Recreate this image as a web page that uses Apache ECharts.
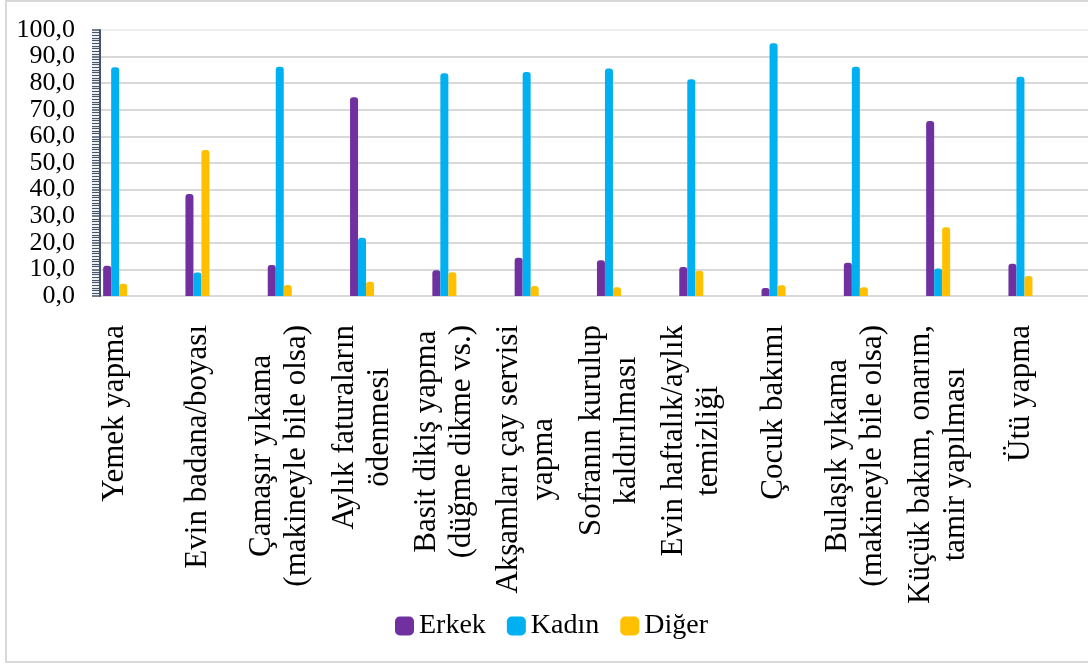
<!DOCTYPE html>
<html>
<head>
<meta charset="utf-8">
<script src="https://cdn.jsdelivr.net/npm/echarts@6/dist/echarts.min.js"></script>
<style>
  html, body { margin: 0; padding: 0; background: #ffffff; }
  #chart { width: 1088px; height: 666px; }
</style>
</head>
<body>
<div id="chart"></div>
<script>
// Household tasks and who does them (%)
const categories = [
  'Yemek yapma',
  'Evin badana/boyası',
  'Çamaşır yıkama\n(makineyle bile olsa)',
  'Aylık faturaların\nödenmesi',
  'Basit dikiş yapma\n(düğme dikme vs.)',
  'Akşamları çay servisi\nyapma',
  'Sofranın kurulup\nkaldırılması',
  'Evin haftalık/aylık\ntemizliği',
  'Çocuk bakımı',
  'Bulaşık yıkama\n(makineyle bile olsa)',
  'Küçük bakım, onarım,\ntamir yapılması',
  'Ütü yapma'
];
const seriesNames = ['Erkek', 'Kadın', 'Diğer'];
const erkek = [11.4, 38.3, 11.7, 74.7, 9.7, 14.4, 13.4, 10.9, 3.0, 12.5, 65.8, 12.1];
const kadin = [86.0, 8.8, 86.2, 21.9, 83.7, 84.2, 85.5, 81.5, 95.0, 86.2, 10.3, 82.4];
const diger = [4.6, 54.9, 4.1, 5.4, 8.9, 3.8, 3.3, 9.5, 4.0, 3.3, 25.8, 7.5];
const yTicks = [0, 10, 20, 30, 40, 50, 60, 70, 80, 90, 100];
const yMin = yTicks[0], yMax = yTicks[yTicks.length - 1], yStep = 10;

const colors = ['#7030A0', '#00B0F0', '#FFC000'];
const serif = 'Liberation Serif, Times New Roman, DejaVu Serif, serif';

const chart = echarts.init(document.getElementById('chart'), null, { renderer: 'canvas' });

// split lines: the top one is drawn fainter
const splitColors = yTicks.map(v => (v === yMax ? '#eeeeee' : '#d9d9d9'));

const barSeries = [erkek, kadin, diger].map((vals, i) => ({
  name: seriesNames[i],
  type: 'bar',
  xAxisIndex: 1,
  yAxisIndex: 1,
  data: vals,
  barWidth: 8,
  barGap: '0%',
  itemStyle: { color: colors[i], borderRadius: [3, 3, 0, 0] }
}));

chart.setOption({
  animation: false,
  backgroundColor: '#ffffff',
  color: colors,
  graphic: [{
    type: 'rect',
    shape: { x: 6, y: 1, width: 1200, height: 661 },
    style: { fill: 'none', stroke: '#d9d9d9', lineWidth: 2 },
    silent: true,
    z: -10
  }],
  legend: {
    data: seriesNames,
    left: 390,
    top: 607,
    itemWidth: 19,
    itemHeight: 19,
    itemGap: 21,
    icon: 'roundRect',
    textStyle: { fontFamily: serif, fontSize: 28, color: '#000000' }
  },
  grid: [
    { left: 100, right: 0, top: 30, bottom: 370 },
    { left: 74, right: 26.4, top: 30, bottom: 370 }
  ],
  xAxis: [
    { type: 'category', gridIndex: 0, data: categories, show: false },
    {
      type: 'category',
      gridIndex: 1,
      data: categories,
      axisLine: { show: false },
      axisTick: { show: false },
      axisLabel: {
        interval: 0,
        rotate: 90,
        margin: 29,
        hideOverlap: false,
        fontFamily: serif,
        fontSize: 31,
        formatter: function (v) {
          return v.split('\n').map(function (s) { return '{c|' + s + '}'; }).join('\n');
        },
        rich: {
          c: { align: 'center', fontFamily: serif, fontSize: 31, lineHeight: 35, color: '#000000' }
        }
      }
    }
  ],
  yAxis: [
    {
      type: 'value',
      gridIndex: 0,
      min: yMin,
      max: yMax,
      interval: yStep,
      axisLine: { show: true, lineStyle: { color: '#44546A', width: 2 } },
      axisTick: { show: true, length: 8, lineStyle: { color: '#44546A', width: 1.5 } },
      minorTick: { show: true, splitNumber: 10, length: 8, lineStyle: { color: '#44546A', width: 1.2 } },
      splitLine: { show: true, lineStyle: { color: splitColors, width: 2 } },
      axisLabel: {
        margin: 25,
        showMinLabel: true,
        showMaxLabel: true,
        hideOverlap: false,
        fontFamily: serif,
        fontSize: 26,
        lineHeight: 20,
        color: '#000000',
        formatter: function (v) { return Number(v).toFixed(1).replace('.', ','); }
      }
    },
    { type: 'value', gridIndex: 1, min: yMin, max: yMax, interval: yStep, show: false, splitLine: { show: false } }
  ],
  series: barSeries
});
</script>
</body>
</html>
